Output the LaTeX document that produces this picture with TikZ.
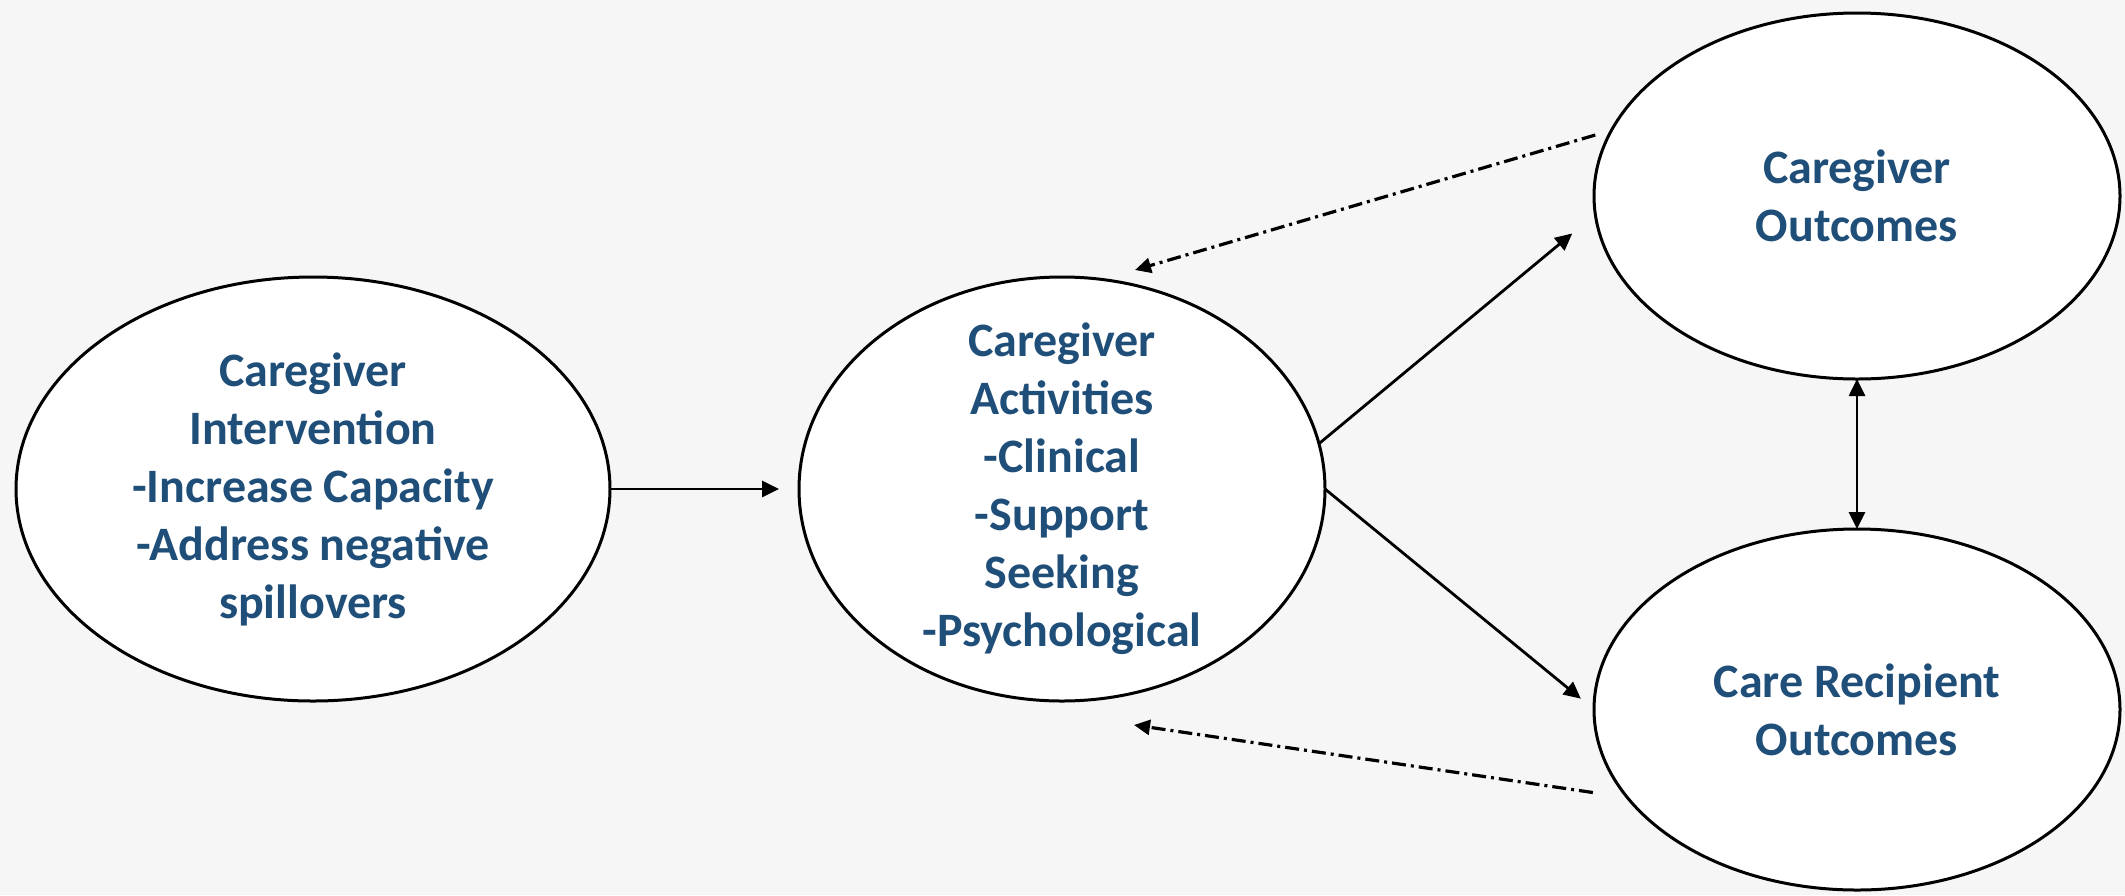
\documentclass[tikz,border=0pt]{standalone}
\usepackage{fontspec}
\setmainfont{Carlito}
\usetikzlibrary{arrows.meta,shapes.geometric}
\definecolor{bg}{HTML}{F6F6F6}
\definecolor{txtblue}{HTML}{1F4E79}
\begin{document}
\begin{tikzpicture}[x=0.5pt,y=-0.5pt,
  concept/.style={ellipse, draw=black, line width=1.5pt, fill=white,
    inner sep=-25pt, outer sep=0pt, align=center, text=txtblue,
    font=\fontsize{24}{29}\selectfont\bfseries},
  tip/.tip={Triangle[length=8.5pt,width=8pt]},
  link/.style={line width=1.4pt, -tip},
  feedback/.style={line width=1.6pt,
    dash pattern=on 7pt off 2.5pt on 1.5pt off 2.5pt,
    -{Triangle[length=8pt,width=7.5pt]}}]
% page background
\fill[bg] (0,0) rectangle (2125,895);
\useasboundingbox (0,0) rectangle (2125,895);

% concepts
\node[concept, minimum width=297pt, minimum height=212pt] (ci) at (313,489)
  {Caregiver\\Intervention\\-Increase Capacity\\-Address negative\\spillovers};
\node[concept, minimum width=263pt, minimum height=212pt] (ca) at (1062,489)
  {Caregiver\\Activities\\-Clinical\\-Support\\Seeking\\-Psychological};
\node[concept, minimum width=263pt, minimum height=183pt] (co) at (1857,196)
  {Caregiver\\Outcomes};
\node[concept, minimum width=263pt, minimum height=180.5pt] (cr) at (1857,709.5)
  {Care Recipient\\Outcomes};

% free ends of the feedback paths
\coordinate (fbtop) at (1135,270);
\coordinate (fbbot) at (1134,725);

% direct effects
\draw[link, shorten >=10pt] (ci.east) -- (ca.west);
\draw[link, shorten >=15pt] (ca.10.1) -- (co.184.6);
\draw[link, shorten >=8.5pt] (ca.east) -- (cr.west);
\draw[link, tip-tip] (co.south) -- (cr.north);

% feedback paths
\draw[feedback, shorten <=8.5pt] (co.165.8) -- (fbtop);
\draw[feedback, shorten <=17.5pt] (cr.201.1) -- (fbbot);
\end{tikzpicture}
\end{document}
